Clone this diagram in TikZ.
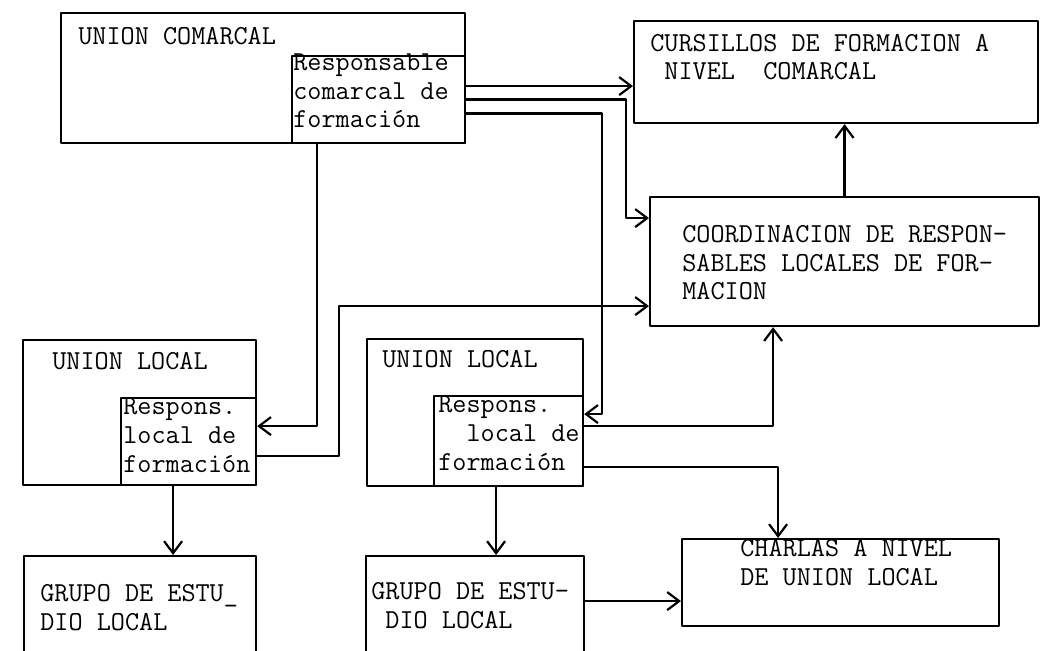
\documentclass[tikz,border=0pt]{standalone}
\usepackage{fontspec}
\usetikzlibrary{arrows.meta}

\begin{document}
\begin{tikzpicture}[x=0.02cm,y=-0.02cm,line cap=round,line join=round,
  box/.style={draw,line width=1.25pt,rectangle,inner sep=0pt,anchor=north west},
  txt/.style={font=\fontsize{15.6}{16.5}\selectfont\ttfamily,align=left,
    anchor=base west,inner sep=0pt},
  arr/.style={line width=1.25pt,
    -{Straight Barb[length=2.4mm,width=3.6mm,line width=1.25pt]}}]

  % page size and paper
  \useasboundingbox (0,0) rectangle (1044,651);
  \fill[white] (0,0) rectangle (1044,651);

  % ---- boxes ----
  \node[box,minimum width=8.08cm,minimum height=2.6cm] (uc) at (60,12) {};
  \node[box,minimum width=3.46cm,minimum height=1.74cm] (ucr) at (291,55) {};
  \node[box,minimum width=8.08cm,minimum height=2.04cm] (cur) at (633,20) {};
  \node[box,minimum width=7.78cm,minimum height=2.58cm] (coo) at (649,196) {};
  \node[box,minimum width=4.66cm,minimum height=2.9cm] (ul1) at (22,339) {};
  \node[box,minimum width=2.7cm,minimum height=1.74cm] (ul1r) at (120,397) {};
  \node[box,minimum width=4.32cm,minimum height=2.94cm] (ul2) at (366,338) {};
  \node[box,minimum width=2.98cm,minimum height=1.8cm] (ul2r) at (433,395) {};
  \node[box,minimum width=4.64cm,minimum height=2.4cm] (gr1) at (23,555) {};
  \node[box,minimum width=4.36cm,minimum height=2.4cm] (gr2) at (365,555) {};
  \node[box,minimum width=6.34cm,minimum height=1.74cm] (cha) at (681,538) {};

  % ---- texts (placed at the baseline of their last line) ----
  \node[txt] (ucT) at (78,45) {UNION COMARCAL};
  \node[txt] (ucrT) at (293,128) {Responsable\\comarcal de\\formación};
  \node[txt] (curT) at (650,80) {CURSILLOS DE FORMACION A\\~NIVEL~~COMARCAL};
  \node[txt] (cooT) at (682,300) {COORDINACION DE RESPON-\\SABLES LOCALES DE FOR-\\MACION};
  \node[txt] (ul1T) at (52,370) {UNION LOCAL};
  \node[txt] (ul1rT) at (123,472) {Respons.\\local de\\formación};
  \node[txt] (ul2T) at (382,368) {UNION LOCAL};
  \node[txt] (ul2rT) at (438,470) {Respons.\\~~local de\\formación};
  \node[txt] (gr1T) at (40,630) {GRUPO DE ESTU\_\\DIO LOCAL};
  \node[txt] (gr2T) at (371,628) {GRUPO DE ESTU-\\~DIO LOCAL};
  \node[txt] (chaT) at (740,585) {CHARLAS A NIVEL\\DE UNION LOCAL};

  % ---- connectors ----
  % from the comarcal officer
  \draw[arr] ([yshift=.27cm]ucr.east) -- ([yshift=.27cm]ucr.east -| cur.west);
  \draw[arr] (ucr.east) -- ++(160,0) |- ([yshift=.87cm]coo.west);
  \draw[arr] ([yshift=-.28cm]ucr.east) -- ++(136,0) |- ([yshift=.54cm]ul2r.east);
  \draw[arr] ([xshift=.52cm]ucr.south west) |- ([yshift=.31cm]ul1r.east);
  % from the local officers
  \draw[arr] ([yshift=-.29cm]ul1r.east) -- ++(82,0) |- ([yshift=-.89cm]coo.west);
  \draw[arr] ([yshift=.3cm]ul2r.east) -| ([xshift=-1.43cm]coo.south);
  \draw[arr] ([yshift=-.52cm]ul2r.east) -| ([xshift=-1.25cm]cha.north);
  \draw[arr] ([xshift=-.31cm]ul1r.south) -- ([xshift=-.31cm]ul1r.south |- gr1.north);
  \draw[arr] ([xshift=-.25cm]ul2r.south) -- ([xshift=-.25cm]ul2r.south |- gr2.north);
  % upward and sideways
  \draw[arr] (coo.north) -- (coo.north |- cur.south);
  \draw[arr] ([yshift=-.37cm]cha.west -| gr2.east) -- ([yshift=-.37cm]cha.west);
\end{tikzpicture}
\end{document}
